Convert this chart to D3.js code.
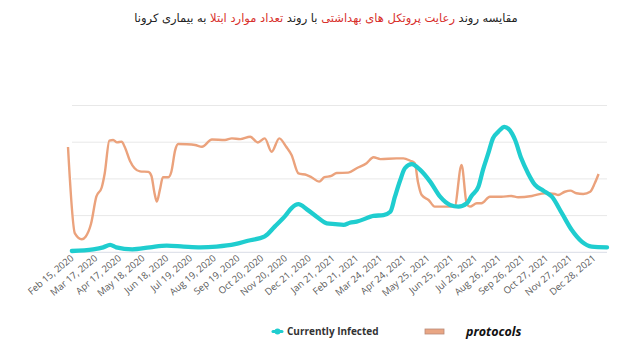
<!DOCTYPE html>
<html>
<head>
<meta charset="utf-8">
<script src="https://cdn.jsdelivr.net/npm/d3@7"></script>
<style>
  html,body{margin:0;padding:0;background:#fff;}
  #chart{width:640px;height:354px;}
</style>
</head>
<body>
<div id="chart"></div>
<script>
// Persian title, pieces in reading order (red = highlighted)
const TITLE_PARTS = [
  ["مقایسه روند ", "#222"],
  ["رعایت پروتکل های بهداشتی", "#d8302c"],
  [" با روند ", "#222"],
  ["تعداد موارد ابتلا", "#d8302c"],
  [" به بیماری کرونا", "#222"]
];

const TICK_DATES = ["2020-02-15","2020-03-17","2020-04-17","2020-05-18","2020-06-18","2020-07-19",
  "2020-08-19","2020-09-19","2020-10-20","2020-11-20","2020-12-21","2021-01-21","2021-02-21",
  "2021-03-24","2021-04-24","2021-05-25","2021-06-25","2021-07-26","2021-08-26","2021-09-26",
  "2021-10-27","2021-11-27","2021-12-28"];

const GRID_VALUES = [0, 20, 40, 60, 80];

// Currently Infected (relative units)
const INFECTED_DATES = ["2020-02-14","2020-03-13","2020-03-26","2020-04-04","2020-04-12","2020-05-03",
  "2020-05-26","2020-06-17","2020-07-09","2020-07-31","2020-08-21","2020-09-14","2020-10-01",
  "2020-10-23","2020-11-05","2020-11-19","2020-11-27","2020-12-06","2020-12-17","2021-01-01",
  "2021-01-12","2021-01-23","2021-02-03","2021-02-11","2021-02-20","2021-03-14","2021-03-27",
  "2021-04-05","2021-04-11","2021-04-18","2021-04-24","2021-05-03","2021-05-14","2021-05-27",
  "2021-06-09","2021-06-22","2021-07-03","2021-07-14","2021-07-20","2021-07-29","2021-08-04",
  "2021-08-11","2021-08-17","2021-08-24","2021-09-01","2021-09-08","2021-09-15","2021-09-23",
  "2021-10-02","2021-10-11","2021-10-22","2021-11-02","2021-11-15","2021-11-28","2021-12-11",
  "2021-12-24","2022-01-13"];
const INFECTED_VALUES = [0.7,1.6,2.7,4.0,2.7,1.6,
  2.7,3.6,3.1,2.7,3.1,4.4,6.3,
  8.7,14.0,20.0,24.1,26.2,23.4,18.7,
  15.8,15.4,15.0,16.1,16.7,19.8,20.3,
  22.1,30.3,39.4,45.8,48.1,44.9,38.5,
  30.3,25.8,24.9,26.7,30.7,35.7,44.9,
  54.0,62.1,65.7,68.4,66.6,61.2,51.2,
  43.0,36.7,33.6,30.3,21.3,12.1,5.8,
  3.1,2.7];

// Protocols compliance (relative units)
const PROTOCOL_DATES = ["2020-02-09","2020-02-18","2020-02-27","2020-03-03","2020-03-10","2020-03-17",
  "2020-03-24","2020-03-28","2020-04-03","2020-04-08","2020-04-13","2020-04-19","2020-04-23",
  "2020-04-30","2020-05-06","2020-05-13","2020-05-24","2020-05-28","2020-06-01","2020-06-04",
  "2020-06-08","2020-06-12","2020-06-19","2020-06-23","2020-06-28","2020-07-02","2020-07-13",
  "2020-07-24","2020-08-02","2020-08-15","2020-09-01","2020-09-10","2020-09-21","2020-10-04",
  "2020-10-14","2020-10-23","2020-11-01","2020-11-11","2020-11-20","2020-11-27","2020-12-06",
  "2020-12-17","2020-12-23","2021-01-02","2021-01-09","2021-01-18","2021-01-25","2021-02-09",
  "2021-02-20","2021-03-05","2021-03-14","2021-03-23","2021-04-13","2021-04-22","2021-05-01",
  "2021-05-07","2021-05-11","2021-05-16","2021-05-25","2021-06-02","2021-06-15","2021-06-28",
  "2021-07-07","2021-07-14","2021-07-18","2021-07-27","2021-08-02","2021-08-13","2021-08-28",
  "2021-09-10","2021-09-19","2021-10-07","2021-10-24","2021-11-06","2021-11-10","2021-11-19",
  "2021-11-26","2021-12-04","2021-12-13","2021-12-22","2021-12-28","2022-01-02"];
const PROTOCOL_VALUES = [57.4,10.3,7.1,8.5,15.4,30.3,
  35.3,43.1,60.9,61.2,59.9,60.3,57.5,
  49.8,45.8,44.1,43.8,41.6,32.2,27.6,
  34.0,40.9,40.9,43.9,55.7,59.0,58.9,
  58.5,57.5,61.5,61.2,62.1,61.7,63.0,
  59.8,62.1,54.8,62.1,57.5,53.0,43.0,
  42.1,40.9,38.5,40.9,41.6,43.2,43.4,
  45.8,48.5,51.8,50.8,51.2,51.2,49.9,
  48.5,38.5,31.2,28.5,24.9,24.9,25.0,
  47.6,26.0,24.9,26.7,26.7,30.3,30.3,
  30.7,30.0,30.7,32.2,31.8,31.2,33.0,
  33.6,32.2,31.8,33.0,37.6,42.7];

const parse = d3.timeParse("%Y-%m-%d");
const fmtTick = d3.timeFormat("%b %-d, %Y");

const width = 640, height = 354;
const svg = d3.select("#chart").append("svg")
  .attr("width", width).attr("height", height);

const x = d3.scaleTime()
  .domain([parse("2020-02-09"), parse("2022-01-13")])
  .range([68, 607]);
const y = d3.scaleLinear().domain([0, 80]).range([252.3, 105.5]);

// Title
svg.append("text")
  .attr("x", 326).attr("y", 22)
  .attr("text-anchor", "middle")
  .attr("direction", "rtl")
  .attr("font-family", "DejaVu Sans")
  .attr("font-size", 11.5)
  .selectAll("tspan")
  .data(TITLE_PARTS).join("tspan")
    .attr("fill", d => d[1])
    .text(d => d[0]);

// Grid
svg.append("g")
  .selectAll("line")
  .data(GRID_VALUES).join("line")
    .attr("x1", 72).attr("x2", 607)
    .attr("y1", d => y(d)).attr("y2", d => y(d))
    .attr("stroke", d => d === 0 ? "#d9dde6" : "#e8e8e8")
    .attr("stroke-width", 1);

// X axis labels
svg.append("g")
  .attr("transform", `translate(0,252)`)
  .call(d3.axisBottom(x).tickValues(TICK_DATES.map(parse)).tickFormat(fmtTick).tickSize(0))
  .call(g => g.select(".domain").remove())
  .selectAll("text")
    .attr("font-family", "Open Sans")
    .attr("font-size", 9.5)
    .attr("fill", "#5a5a5a")
    .attr("text-anchor", "end")
    .attr("dx", "0.1em").attr("dy", "0.75em")
    .attr("transform", "translate(-6,0) rotate(-40)");

const line = d3.line()
  .x(d => x(d[0])).y(d => y(d[1]))
  .curve(d3.curveMonotoneX);

const protocols = PROTOCOL_DATES.map((d, i) => [parse(d), PROTOCOL_VALUES[i]]);
const infected  = INFECTED_DATES.map((d, i) => [parse(d), INFECTED_VALUES[i]]);

svg.append("path").datum(protocols)
  .attr("d", line)
  .attr("fill", "none")
  .attr("stroke", "#eba27c")
  .attr("stroke-width", 2.4)
  .attr("stroke-linejoin", "round");

svg.append("path").datum(infected)
  .attr("d", line)
  .attr("fill", "none")
  .attr("stroke", "#1fcdcf")
  .attr("stroke-width", 4.3)
  .attr("stroke-linejoin", "round")
  .attr("stroke-linecap", "round");

// Legend
const lg = svg.append("g");
lg.append("line")
  .attr("x1", 273).attr("x2", 282).attr("y1", 331.5).attr("y2", 331.5)
  .attr("stroke", "#1fcdcf").attr("stroke-width", 3).attr("stroke-linecap", "round");
lg.append("circle").attr("cx", 277.5).attr("cy", 331.5).attr("r", 3).attr("fill", "#1fcdcf");
lg.append("text")
  .attr("x", 287).attr("y", 335)
  .attr("font-family", "Open Sans").attr("font-weight", "bold")
  .attr("font-size", 10).attr("fill", "#333")
  .text("Currently Infected");
lg.append("rect")
  .attr("x", 425).attr("y", 329).attr("width", 19).attr("height", 5)
  .attr("fill", "#e9a684").attr("stroke", "#b98a78").attr("stroke-width", 0.8);
lg.append("text")
  .attr("x", 466).attr("y", 336)
  .attr("font-family", "Open Sans").attr("font-weight", "bold").attr("font-style", "italic")
  .attr("font-size", 12.5).attr("fill", "#111")
  .text("protocols");
</script>
</body>
</html>
